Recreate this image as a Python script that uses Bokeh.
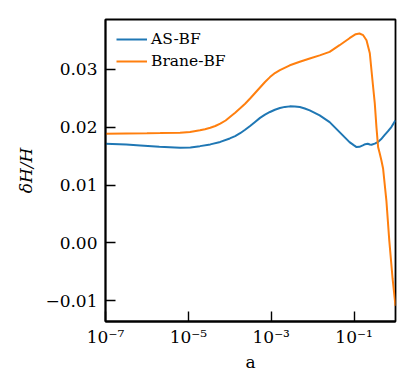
from bokeh.plotting import figure
from bokeh.models import Range1d, FixedTicker, CustomJSTickFormatter, Legend, LegendItem
from bokeh.embed import file_html
from bokeh.resources import INLINE

# ---- data (log10 of scale factor a, and deltaH/H) ----
as_bf_loga = [-7.00, -6.50, -6.16, -5.70, -5.20, -4.95, -4.72, -4.47, -4.23, -4.00,
              -3.87, -3.75, -3.63, -3.51, -3.39, -3.27, -3.15, -3.03, -2.91, -2.79,
              -2.67, -2.55, -2.43, -2.31, -2.19, -2.07, -1.83, -1.59, -1.35, -1.11,
              -1.00, -0.94, -0.87, -0.79, -0.73, -0.67, -0.62, -0.58, -0.50, -0.43,
              -0.35, -0.27, -0.18, -0.10, 0.00]
as_bf_val = [0.01713, 0.01700, 0.01684, 0.01660, 0.01644, 0.01650, 0.01672, 0.01702, 0.01745, 0.01805,
             0.01845, 0.01895, 0.01955, 0.02020, 0.02090, 0.02160, 0.02215, 0.02262, 0.02300, 0.02330,
             0.02350, 0.02359, 0.02358, 0.02347, 0.02323, 0.02290, 0.02203, 0.02087, 0.01914, 0.01741,
             0.01685, 0.01655, 0.01660, 0.01684, 0.01705, 0.01713, 0.01700, 0.01696, 0.01715, 0.01741,
             0.01790, 0.01857, 0.01930, 0.02001, 0.02117]

brane_bf_loga = [-7.00, -6.50, -6.00, -5.68, -5.20, -4.96, -4.72, -4.60, -4.47, -4.35,
                 -4.23, -4.10, -3.99, -3.87, -3.75, -3.63, -3.51, -3.39, -3.27, -3.15,
                 -3.03, -2.91, -2.79, -2.55, -2.31, -2.07, -1.83, -1.59, -1.35, -1.11,
                 -0.96, -0.87, -0.78, -0.70, -0.62, -0.58, -0.54, -0.50, -0.46, -0.42,
                 -0.38, -0.34, -0.30, -0.22, -0.15, -0.07, 0.00]
brane_bf_val = [0.01887, 0.01890, 0.01893, 0.01897, 0.01905, 0.01918, 0.01945, 0.01965, 0.01990, 0.02020,
                0.02060, 0.02115, 0.02180, 0.02250, 0.02325, 0.02405, 0.02495, 0.02590, 0.02685, 0.02780,
                0.02865, 0.02935, 0.02985, 0.03069, 0.03130, 0.03185, 0.03240, 0.03300, 0.03416, 0.03537,
                0.03606, 0.03618, 0.03589, 0.03502, 0.03277, 0.02983, 0.02694, 0.02411, 0.02001, 0.01655,
                0.01545, 0.01424, 0.01286, 0.00732, 0.00039, -0.00619, -0.01087]

x_ticks = [1e-7, 1e-5, 1e-3, 1e-1]
y_ticks = [-0.01, 0.0, 0.01, 0.02, 0.03]
series_names = ["AS-BF", "Brane-BF"]
series_colors = ["#1f77b4", "#ff7f0e"]
x_title = "a"
y_title = "\u03b4H/H"

FONT = "'DejaVu Serif'"
AX_FONT = "dejavu serif"

p = figure(x_axis_type="log", frame_width=290, frame_height=302,
           min_border_left=105, min_border_top=19, min_border_right=15, min_border_bottom=50,
           x_range=Range1d(1e-7, 1.0), y_range=Range1d(-0.01358, 0.0386),
           output_backend="svg", toolbar_location=None)

p.background_fill_color = "white"
p.border_fill_color = "white"
p.grid.visible = False
p.outline_line_color = "black"
p.outline_line_width = 1.8

r1 = p.line([10 ** v for v in as_bf_loga], as_bf_val, line_color=series_colors[0], line_width=2)
r2 = p.line([10 ** v for v in brane_bf_loga], brane_bf_val, line_color=series_colors[1], line_width=2)

for ax in (p.xaxis[0], p.yaxis[0]):
    ax.axis_line_color = "black"
    ax.axis_line_width = 1.8
    ax.major_tick_in = 10
    ax.major_tick_out = 0
    ax.major_tick_line_width = 1.4
    ax.minor_tick_line_color = None
    ax.major_label_text_font = AX_FONT
    ax.major_label_text_font_size = "17px"
    ax.major_label_text_color = "black"
    ax.axis_label_text_font = AX_FONT
    ax.axis_label_text_font_size = "17px"
    ax.axis_label_text_color = "black"

p.xaxis.ticker = FixedTicker(ticks=x_ticks)
p.xaxis.formatter = CustomJSTickFormatter(code="""
const e = Math.round(Math.log10(tick));
const m = {'-':'\u207b','0':'\u2070','1':'\u00b9','2':'\u00b2','3':'\u00b3','4':'\u2074','5':'\u2075','6':'\u2076','7':'\u2077','8':'\u2078','9':'\u2079'};
return '10' + String(e).split('').map(c => m[c]).join('');
""")
p.xaxis.major_label_standoff = 5
p.xaxis.axis_label = x_title
p.xaxis.axis_label_standoff = 2
p.xaxis.axis_label_text_font_style = "normal"

p.yaxis.ticker = FixedTicker(ticks=y_ticks)
p.yaxis.formatter = CustomJSTickFormatter(code="""
const v = Math.abs(tick) < 1e-12 ? 0 : tick;
return (v < 0 ? '\u2212' : '') + Math.abs(v).toFixed(2);
""")
p.yaxis.major_label_standoff = 8
p.yaxis.axis_label = y_title
p.yaxis.axis_label_standoff = 6
p.yaxis.axis_label_text_font_style = "italic"

legend = Legend(items=[LegendItem(label=series_names[0], renderers=[r1]),
                       LegendItem(label=series_names[1], renderers=[r2])],
                location=(11, 249))
legend.border_line_color = None
legend.background_fill_alpha = 0
legend.margin = 0
legend.padding = 0
legend.glyph_width = 31
legend.glyph_height = 22
legend.label_height = 22
legend.spacing = 0
legend.label_standoff = 4
legend.label_text_font = FONT
legend.label_text_font_size = "15.5px"
legend.label_text_color = "black"
p.add_layout(legend)

open("out.html", "w").write(file_html(p, INLINE))
